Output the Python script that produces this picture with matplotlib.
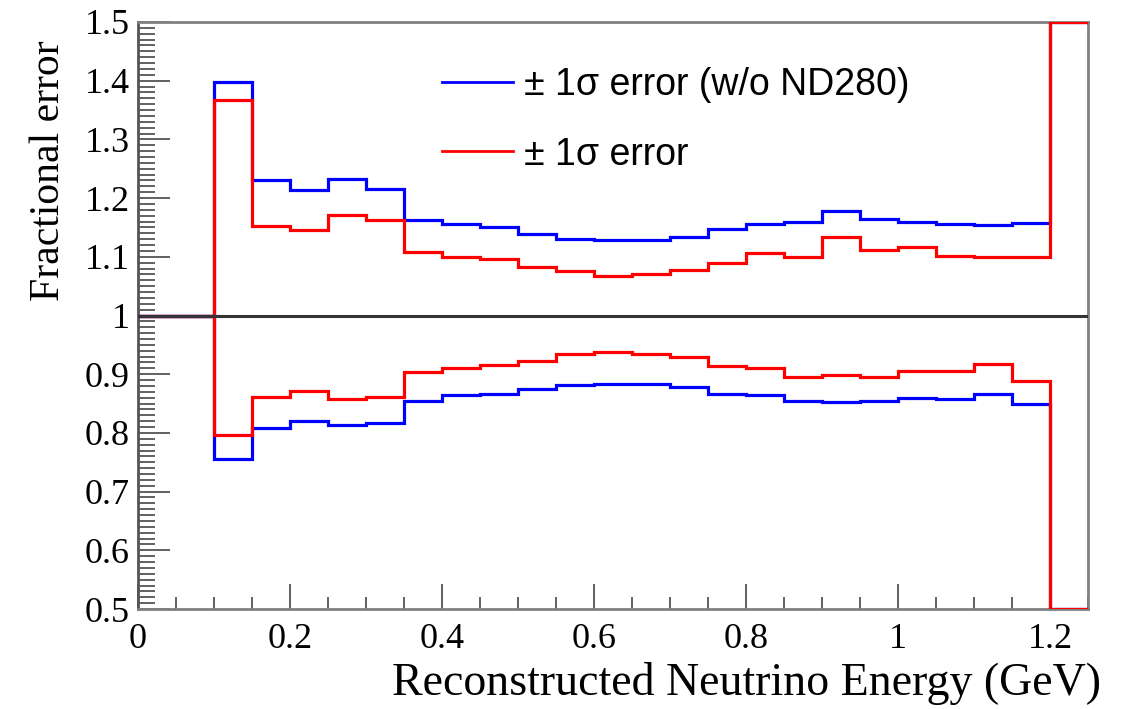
import numpy as np
import matplotlib
matplotlib.use("Agg")
import matplotlib.pyplot as plt
from matplotlib.ticker import MultipleLocator, FuncFormatter

# bin edges (GeV): 0 to 1.25 in 0.05 steps
edges = np.round(np.arange(0, 1.2501, 0.05), 3)

# fractional error per bin
# first two bins (0-0.1) sit at 1, last bin (1.2-1.25) is off scale
blue_up = [1.0, 1.0,
           1.398, 1.230, 1.214, 1.233, 1.216, 1.163, 1.156, 1.150, 1.139, 1.131, 1.128,
           1.129, 1.133, 1.148, 1.156, 1.160, 1.178, 1.164, 1.160, 1.156, 1.155, 1.158,
           1.5]
red_up = [1.0, 1.0,
          1.367, 1.153, 1.145, 1.172, 1.162, 1.109, 1.100, 1.097, 1.083, 1.075, 1.068,
          1.070, 1.078, 1.090, 1.107, 1.100, 1.133, 1.112, 1.116, 1.102, 1.099, 1.099,
          1.5]
blue_lo = [1.0, 1.0,
           0.755, 0.809, 0.821, 0.813, 0.817, 0.855, 0.864, 0.867, 0.874, 0.881, 0.884,
           0.883, 0.878, 0.867, 0.864, 0.855, 0.852, 0.855, 0.860, 0.857, 0.867, 0.850,
           0.5]
red_lo = [1.0, 1.0,
          0.796, 0.861, 0.871, 0.857, 0.861, 0.904, 0.910, 0.915, 0.922, 0.934, 0.937,
          0.934, 0.929, 0.914, 0.910, 0.895, 0.898, 0.895, 0.906, 0.905, 0.918, 0.889,
          0.5]

fig = plt.figure(figsize=(11.21, 7.09), dpi=100)
ax = fig.add_axes([0.123, 0.141, 0.848, 0.828])

lw = 2.3
ax.stairs(blue_up, edges, baseline=None, color="#0000ff", lw=lw,
          label="± 1σ error (w/o ND280)", zorder=3)
ax.stairs(blue_lo, edges, baseline=None, color="#0000ff", lw=lw, zorder=3)
ax.stairs(red_up, edges, baseline=None, color="#ff0000", lw=lw, label="± 1σ error", zorder=4)
ax.stairs(red_lo, edges, baseline=None, color="#ff0000", lw=lw, zorder=4)
ax.axhline(1.0, color="#333333", lw=2.2, zorder=5)

ax.set_xlim(0, 1.25)
ax.set_ylim(0.5, 1.5)

ax.xaxis.set_major_locator(MultipleLocator(0.2))
ax.xaxis.set_minor_locator(MultipleLocator(0.05))
ax.yaxis.set_major_locator(MultipleLocator(0.1))
ax.yaxis.set_minor_locator(MultipleLocator(0.01))
fmt = FuncFormatter(lambda v, p: "%g" % round(v, 3))
ax.xaxis.set_major_formatter(fmt)
ax.yaxis.set_major_formatter(fmt)

for s in ax.spines.values():
    s.set_color("#808080")
    s.set_linewidth(2.0)
ax.spines["left"].set_color("#555555")

ax.tick_params(axis="both", which="both", direction="in", color="#555555",
               top=False, right=False)
ax.tick_params(axis="x", which="major", length=18, width=1.3, pad=10)
ax.tick_params(axis="x", which="minor", length=9, width=1.3)
ax.tick_params(axis="y", which="major", length=23, width=1.3, pad=6)
ax.tick_params(axis="y", which="minor", length=12, width=1.3)

serif = ["Liberation Serif", "DejaVu Serif"]
for lab in ax.get_xticklabels() + ax.get_yticklabels():
    lab.set_fontfamily(serif)
    lab.set_fontsize(26)

ax.set_xlabel("Reconstructed Neutrino Energy (GeV)", family=serif, fontsize=33, loc="right")
ax.xaxis.set_label_coords(1.013, -0.09)
ax.set_ylabel("Fractional error", family=serif, fontsize=30, loc="top")
ax.yaxis.set_label_coords(-0.073, 0.968)

leg = ax.legend(loc="upper left", bbox_to_anchor=(0.300, 0.955), frameon=False,
                prop={"family": ["Liberation Sans", "DejaVu Sans"], "size": 27},
                handlelength=1.9, handletextpad=0.3, labelspacing=0.89, borderpad=0)
for h in leg.get_lines():
    h.set_linewidth(2.0)

fig.savefig("out.png", dpi=100)
